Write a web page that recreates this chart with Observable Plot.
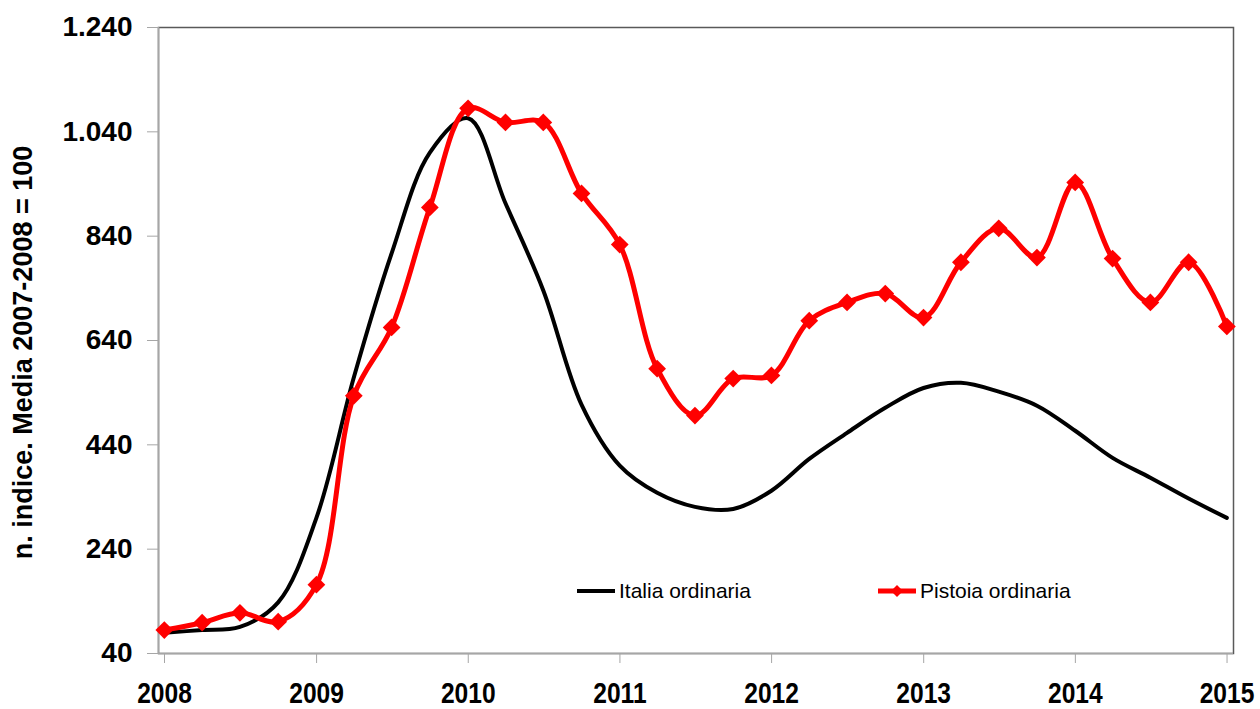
<!DOCTYPE html>
<html>
<head>
<meta charset="utf-8">
<script src="https://cdn.jsdelivr.net/npm/d3@7"></script>
<script src="https://cdn.jsdelivr.net/npm/@observablehq/plot@0.6"></script>
<style>
  html, body { margin: 0; padding: 0; background: #fff; }
  #wrap { position: relative; width: 1260px; height: 709px; overflow: hidden; }
  #wrap svg { display: block; }
  .legend { position: absolute; top: 578px; height: 26px; display: flex; align-items: center;
            font-family: "Liberation Sans", Arial, sans-serif; font-size: 21px; color: #000; white-space: nowrap; }
  .legend svg { display: block; margin-right: 3px; }
</style>
</head>
<body>
<div id="wrap"></div>
<script>
// ---- data ----
const dates = [
  "2008-01-15","2008-04-15","2008-07-15","2008-10-15",
  "2009-01-15","2009-04-15","2009-07-15","2009-10-15",
  "2010-01-15","2010-04-15","2010-07-15","2010-10-15",
  "2011-01-15","2011-04-15","2011-07-15","2011-10-15",
  "2012-01-15","2012-04-15","2012-07-15","2012-10-15",
  "2013-01-15","2013-04-15","2013-07-15","2013-10-15",
  "2014-01-15","2014-04-15","2014-07-15","2014-10-15",
  "2015-01-15"
];
const italia = [
  80, 85, 91, 138,
  300, 569, 807, 1000,
  1066, 903, 736, 517,
  400, 348, 321, 317,
  352, 413, 463, 511,
  549, 559, 542, 515,
  467, 415, 377, 337,
  300
];
const pistoia = [
  85, 99, 118, 101,
  172, 534, 665, 895,
  1085, 1058, 1058, 922,
  824, 586, 496, 567,
  573, 678, 713, 730,
  684, 790, 855, 799,
  943, 797, 713, 790,
  667
];
const seriesNames = ["Italia ordinaria", "Pistoia ordinaria"];
const yTicks = [40, 240, 440, 640, 840, 1040, 1240];
const xTickYears = ["2008","2009","2010","2011","2012","2013","2014","2015"];
const xDomain = ["2008-01-01", "2015-01-31"];
const yDomain = [40, 1240];
const yTitle = "n. indice. Media 2007-2008 = 100";

// ---- build tables ----
const rowsIt = dates.map((d, i) => ({date: new Date(d), value: italia[i], serie: seriesNames[0]}));
const rowsPi = dates.map((d, i) => ({date: new Date(d), value: pistoia[i], serie: seriesNames[1]}));
const xTicks = xTickYears.map(y => new Date(y + "-01-01"));
const itLocale = d3.formatLocale({decimal: ",", thousands: ".", grouping: [3], currency: ["€", ""]});
const fmtY = itLocale.format(",");

const plot = Plot.plot({
  width: 1260,
  height: 709,
  marginLeft: 158,
  marginRight: 27,
  marginTop: 27,
  marginBottom: 56,
  style: {fontFamily: "'Liberation Sans', Arial, sans-serif", background: "#fff", color: "#000"},
  x: {type: "utc", domain: xDomain.map(d => new Date(d))},
  y: {domain: yDomain},
  marks: [
    Plot.frame({stroke: "#595959", strokeWidth: 1.5}),
    Plot.ruleY([yDomain[0]], {stroke: "#a6a6a6", strokeWidth: 1.5}),
    Plot.ruleX([new Date(xDomain[0])], {stroke: "#a6a6a6", strokeWidth: 1.5}),
    Plot.axisY({
      ticks: yTicks, tickFormat: fmtY, tickSize: 11, tickPadding: 15,
      stroke: "#a6a6a6", fill: "#000", label: null,
      fontSize: 28, fontWeight: "bold"
    }),
    Plot.axisX({
      ticks: xTicks, tickFormat: "%Y", tickSize: 10, tickPadding: 18,
      stroke: "#a6a6a6", fill: "#000", label: null, dx: 6,
      fontSize: 30, fontWeight: "bold"
    }),
    Plot.text([yTitle], {
      text: d => d, frameAnchor: "left", rotate: -90, dx: -146, dy: 12,
      textAnchor: "middle", lineAnchor: "top", fontSize: 27, fontWeight: "bold", fill: "#000"
    }),
    Plot.line(rowsIt, {x: "date", y: "value", curve: "catmull-rom", stroke: "#000", strokeWidth: 4}),
    Plot.line(rowsPi, {x: "date", y: "value", curve: "catmull-rom", stroke: "#ff0000", strokeWidth: 5}),
    Plot.dot(rowsPi, {x: "date", y: "value", symbol: "diamond2", r: 8, fill: "#ff0000", stroke: "none"})
  ]
});

// condense the year labels horizontally (narrow bold look of the reference)
plot.querySelectorAll('g[aria-label="x-axis tick label"] text').forEach(t => {
  const cx = +(t.getAttribute("x") || 0);
  const tr = t.getAttribute("transform") || "";
  t.setAttribute("transform", `${tr} translate(${cx},0) scale(0.82,1) translate(${-cx},0)`);
});

const wrap = document.getElementById("wrap");
wrap.appendChild(plot);

// legend (inside plot area, as in the reference)
function legendItem(left, name, kind) {
  const div = document.createElement("div");
  div.className = "legend";
  div.style.left = left + "px";
  const sw = kind === "black"
    ? `<svg width="40" height="12"><line x1="1" x2="39" y1="6" y2="6" stroke="#000" stroke-width="4"/></svg>`
    : `<svg width="40" height="14"><line x1="1" x2="39" y1="7" y2="7" stroke="#ff0000" stroke-width="5"/><path d="M20,1 L26,7 L20,13 L14,7 Z" fill="#ff0000"/></svg>`;
  div.innerHTML = sw + `<span>${name}</span>`;
  wrap.appendChild(div);
}
legendItem(576, seriesNames[0], "black");
legendItem(877, seriesNames[1], "red");
</script>
</body>
</html>
